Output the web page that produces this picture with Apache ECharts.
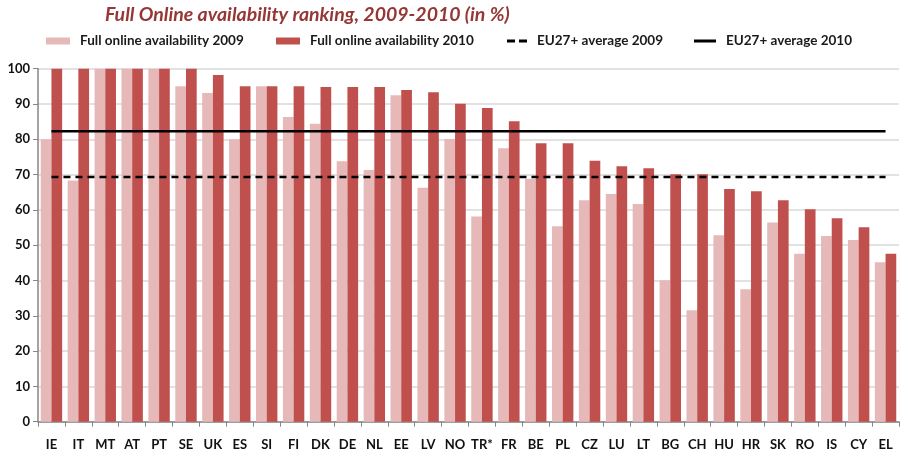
<!DOCTYPE html>
<html><head><meta charset="utf-8">
<script src="https://cdn.jsdelivr.net/npm/echarts@6/dist/echarts.min.js"></script>
<style>html,body{margin:0;padding:0;background:#fff}#c{width:908px;height:458px}</style>
</head><body><div id="c"></div>
<script>
const categories = ['IE','IT','MT','AT','PT','SE','UK','ES','SI','FI','DK','DE','NL','EE','LV','NO','TR*','FR','BE','PL','CZ','LU','LT','BG','CH','HU','HR','SK','RO','IS','CY','EL'];
const avail2009 = [80,68.3,100,100,100,95,93.1,80,95,86.3,84.4,73.8,71.3,92.5,66.3,80.1,58.1,77.5,68.8,55.4,62.7,64.5,61.7,40.1,31.6,52.8,37.5,56.4,47.6,52.6,51.5,45.2];
const avail2010 = [100,100,100,100,100,100,98.2,95,95,95,94.8,94.8,94.8,94,93.3,90.1,88.9,85.1,78.9,78.9,73.9,72.4,71.8,70.1,70.1,65.9,65.3,62.7,60.2,57.6,55.1,47.6];
const avgEU2009 = 69.3;
const avgEU2010 = 82.3;
const yTicks = [0,10,20,30,40,50,60,70,80,90,100];
const seriesNames = ['Full online availability 2009','Full online availability 2010','EU27+ average 2009','EU27+ average 2010'];

const font = 'Lato, "Open Sans", sans-serif';
const chart = echarts.init(document.getElementById('c'), null, {renderer:'canvas'});
const first = categories[0], last = categories[categories.length-1];
const legText = {fontFamily:font, fontSize:13.5, fontWeight:'bold', color:'#1a1a1a', padding:[0,0,0,5]};
function leg(name, left, icon, w, h){
  return {left:left, top:34, padding:0, height:16, itemWidth:w, itemHeight:h, selectedMode:false,
    textStyle:legText, data:[{name:name, icon:icon, itemStyle:{borderWidth:0}}]};
}
chart.setOption({
  animation:false,
  title:{text:'Full Online availability ranking, 2009-2010 (in %)', left:100, top:0,
    textStyle:{fontFamily:font, fontSize:19.5, fontWeight:'bold', fontStyle:'italic', color:'#953735'}},
  legend:[
    leg(seriesNames[0], 46, 'rect', 24, 7),
    leg(seriesNames[1], 276, 'rect', 24, 7),
    leg(seriesNames[2], 507, 'path://M0,0h8v3h-8zM12,0h8v3h-8z', 20, 3),
    leg(seriesNames[3], 694, 'rect', 22, 3)
  ],
  grid:{left:38, right:9, top:68.7, bottom:36.3, containLabel:false},
  xAxis:{type:'category', data:categories, boundaryGap:true,
    axisLine:{lineStyle:{color:'#868686', width:1.5}},
    axisTick:{show:true, alignWithLabel:false, length:5, lineStyle:{color:'#868686'}},
    axisLabel:{fontFamily:font, fontSize:13, fontWeight:'bold', color:'#111', margin:17, interval:0}},
  yAxis:{type:'value', min:yTicks[0], max:yTicks[yTicks.length-1], interval:10,
    axisLine:{show:true, lineStyle:{color:'#868686', width:1.5}},
    axisTick:{show:true, length:5, lineStyle:{color:'#868686'}},
    splitLine:{lineStyle:{color:'#d9d9d9', width:1.5}},
    axisLabel:{fontFamily:font, fontSize:13, fontWeight:'bold', color:'#111', margin:8}},
  series:[
    {name:seriesNames[0], type:'bar', data:avail2009, barWidth:10.7, barGap:'0%',
      itemStyle:{color:'#E6B9B8'}},
    {name:seriesNames[1], type:'bar', data:avail2010, barWidth:10.7, barGap:'0%',
      itemStyle:{color:'#C0504D'}},
    {name:seriesNames[2], type:'line', symbol:'none', z:5,
      data:[[first, avgEU2009],[last, avgEU2009]],
      lineStyle:{color:'#000', width:2.5, type:[7,5]}, itemStyle:{color:'#000'}},
    {name:seriesNames[3], type:'line', symbol:'none', z:5,
      data:[[first, avgEU2010],[last, avgEU2010]],
      lineStyle:{color:'#000', width:2.5, type:'solid'}, itemStyle:{color:'#000'}}
  ]
});
</script></body></html>
